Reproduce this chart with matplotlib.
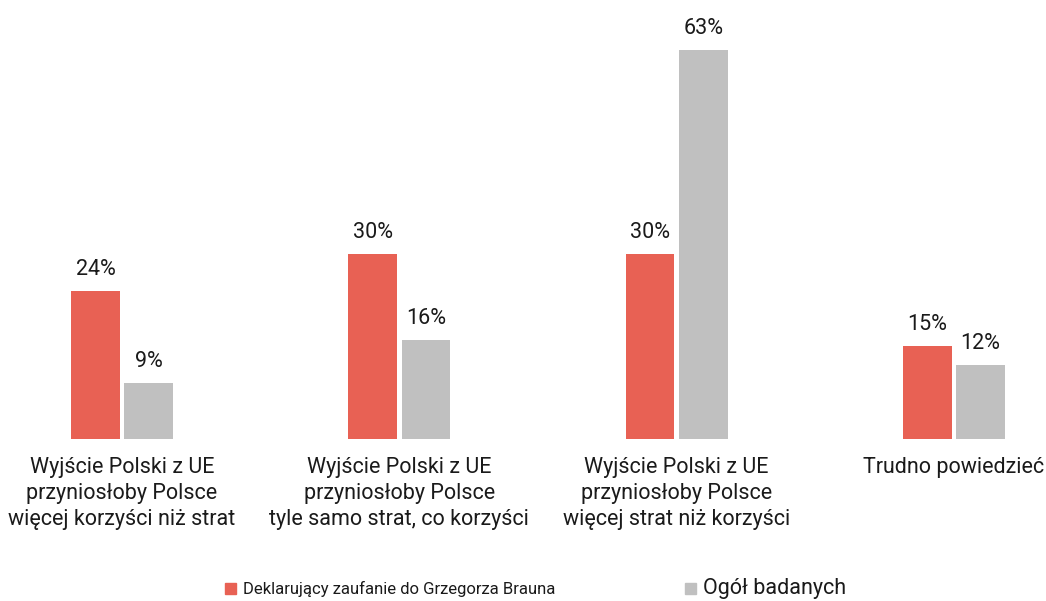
import matplotlib.pyplot as plt
import numpy as np
from matplotlib.patches import Patch

plt.rcParams['font.family'] = ['Roboto', 'DejaVu Sans']

categories = [
    'Wyjście Polski z UE\nprzyniosłoby Polsce\nwięcej korzyści niż strat',
    'Wyjście Polski z UE\nprzyniosłoby Polsce\ntyle samo strat, co korzyści',
    'Wyjście Polski z UE\nprzyniosłoby Polsce\nwięcej strat niż korzyści',
    'Trudno powiedzieć',
]
braun = [24, 30, 30, 15]
ogol = [9, 16, 63, 12]
series_names = ['Deklarujący zaufanie do Grzegorza Brauna', 'Ogół badanych']
colors = ['#E86154', '#C0C0C0']

fig = plt.figure(figsize=(10.46, 6.01), dpi=100)
ax = fig.add_axes([0, 0.2696, 1, 0.719])

x = np.arange(len(categories))
w = 0.176
off = 0.096
b1 = ax.bar(x - off, braun, w, color=colors[0])
b2 = ax.bar(x + off, ogol, w, color=colors[1])

for bars, vals in [(b1, braun), (b2, ogol)]:
    for b, v in zip(bars, vals):
        ax.annotate(f'{v}%', (b.get_x() + b.get_width() / 2, v),
                    xytext=(0, 8), textcoords='offset points',
                    ha='center', va='bottom', fontsize=15.5, color='#1a1a1a')

ax.set_xlim(-0.44, 3.332)
ax.set_ylim(0, 70)
ax.set_yticks([])
ax.set_xticks(x)
ax.set_xticklabels(categories, fontsize=15.5, color='#1a1a1a', linespacing=1.32)
ax.tick_params(axis='x', length=0, pad=13)
for s in ax.spines.values():
    s.set_visible(False)

handles = [Patch(color=c, label=n) for c, n in zip(colors, series_names)]
leg = fig.legend(handles=handles, loc='lower center', bbox_to_anchor=(0.512, -0.022),
                 ncol=2, frameon=False, fontsize=12, handlelength=0.66,
                 handleheight=0.66, handletextpad=0.42, columnspacing=7.75)
leg.get_texts()[1].set_fontsize(15.5)
for t in leg.get_texts():
    t.set_color('#1a1a1a')

fig.savefig('out.png', dpi=100)
